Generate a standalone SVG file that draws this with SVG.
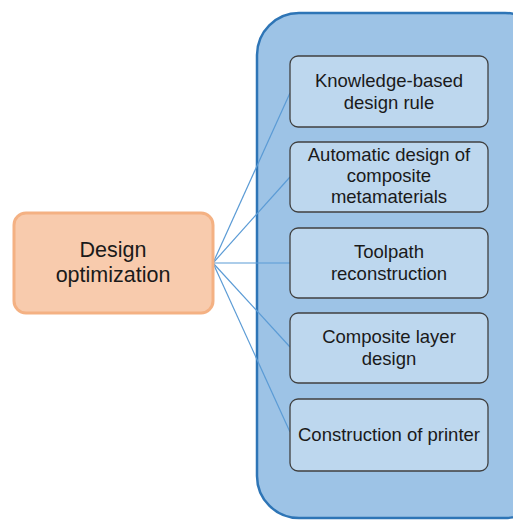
<svg xmlns="http://www.w3.org/2000/svg" width="513" height="521" viewBox="0 0 513 521">
<style>
.t{font-family:"Liberation Sans",Arial,sans-serif;fill:#1a1a1a;text-anchor:middle}
.s{font-size:18.5px}
.b{fill:#bdd7ee;stroke:#404040;stroke-width:1.3}
.c{stroke:#5b9bd5;stroke-width:1.2;fill:none}
</style>
<rect width="513" height="521" fill="#ffffff"/>
<g id="container">
<rect x="257" y="13" width="290" height="505" rx="42" fill="#9dc3e6" stroke="#2e75b6" stroke-width="2.5"/>
</g>
<g id="connectors">
<line class="c" x1="213" y1="263" x2="290" y2="93"/>
<line class="c" x1="213" y1="263" x2="290" y2="177"/>
<line class="c" x1="213" y1="263" x2="290" y2="263"/>
<line class="c" x1="213" y1="263" x2="290" y2="347"/>
<line class="c" x1="213" y1="263" x2="290" y2="432"/>
</g>
<g id="design-optimization">
<rect x="14" y="213" width="199" height="100" rx="12" fill="#f8cbad" stroke="#f4b183" stroke-width="3"/>
<text class="t" x="113" y="257" font-size="21.5">Design</text>
<text class="t" x="113" y="282" font-size="21.5">optimization</text>
</g>
<g id="knowledge">
<rect class="b" x="290" y="56" width="198" height="71" rx="8"/>
<text class="t s" x="389" y="87">Knowledge-based</text>
<text class="t s" x="389" y="109">design rule</text>
</g>
<g id="automatic">
<rect class="b" x="290" y="142" width="198" height="70" rx="8"/>
<text class="t s" x="389" y="161">Automatic design of</text>
<text class="t s" x="389" y="182">composite</text>
<text class="t s" x="389" y="203">metamaterials</text>
</g>
<g id="toolpath">
<rect class="b" x="290" y="228" width="198" height="70" rx="8"/>
<text class="t s" x="389" y="258">Toolpath</text>
<text class="t s" x="389" y="280">reconstruction</text>
</g>
<g id="composite-layer">
<rect class="b" x="290" y="313" width="198" height="70" rx="8"/>
<text class="t s" x="389" y="343">Composite layer</text>
<text class="t s" x="389" y="365">design</text>
</g>
<g id="printer">
<rect class="b" x="290" y="399" width="198" height="72" rx="8"/>
<text class="t s" x="389" y="441">Construction of printer</text>
</g>
</svg>
